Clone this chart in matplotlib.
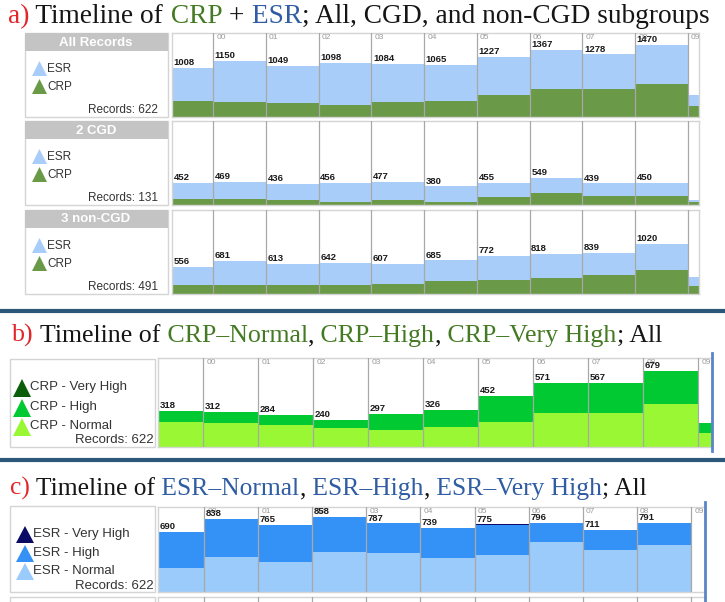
import numpy as np
import matplotlib
import matplotlib.pyplot as plt
from matplotlib.patches import Rectangle, Polygon

matplotlib.use('Agg')

# ---- data ----
years = ['99', '00', '01', '02', '03', '04', '05', '06', '07', '08', '09']

# a) CRP + ESR, stacked (last entry = partial 09 column)
crp_all = [318, 312, 284, 240, 297, 326, 452, 571, 567, 679, 215]
esr_all = [690, 838, 765, 858, 787, 739, 775, 796, 711, 791, 240]
crp_cgd = [130, 130, 110, 60, 95, 70, 165, 240, 180, 180, 60]
esr_cgd = [322, 339, 326, 396, 382, 310, 290, 309, 259, 270, 50]
crp_non = [188, 182, 174, 180, 202, 256, 287, 331, 387, 499, 155]
esr_non = [368, 499, 439, 462, 405, 429, 485, 487, 452, 521, 190]

# b) CRP levels
crp_normal = [220, 211, 196, 172, 151, 175, 222, 305, 302, 383, 125]
crp_high = [98, 101, 88, 68, 146, 151, 230, 266, 265, 288, 90]
crp_vhigh = [0, 0, 0, 0, 0, 0, 0, 0, 0, 8, 0]

# c) ESR levels (no 09 data)
esr_normal = [272, 406, 345, 463, 452, 391, 429, 578, 483, 540]
esr_high = [418, 432, 420, 395, 335, 348, 340, 218, 228, 251]
esr_vhigh = [0, 0, 0, 0, 0, 0, 6, 0, 0, 0]

W, H = 725, 602
fig = plt.figure(figsize=(W / 100, H / 100), dpi=100)
fig.patch.set_facecolor('white')

UI = 'Liberation Sans'
SEP = '#a8a8a8'
BORDER = '#d4d4d4'


def px_axes(x0, y0, x1, y1):
    return fig.add_axes([x0 / W, 1 - y1 / H, (x1 - x0) / W, (y1 - y0) / H])


def style_chart(ax, xlim, ylim):
    ax.set_xlim(*xlim)
    ax.set_ylim(0, ylim)
    ax.set_xticks([])
    ax.set_yticks([])
    for s in ax.spines.values():
        s.set_color(BORDER)
        s.set_linewidth(1)
    for k in range(1, 11):
        ax.axvline(k, color=SEP, lw=0.9, zorder=3)


def stacked(ax, layers, colors, n_labels, year_labels=True):
    x = np.arange(len(layers[0]))
    bottom = np.zeros(len(x))
    for vals, col in zip(layers, colors):
        ax.bar(x, vals, width=1, align='edge', bottom=bottom, color=col, lw=0, zorder=2)
        bottom = bottom + np.array(vals)
    x_left = ax.get_xlim()[0]
    for i in range(n_labels):
        ax.text(max(i, x_left) + 0.03, bottom[i] + ax.get_ylim()[1] * 0.01, str(int(bottom[i])),
                fontsize=6.8, fontweight='bold', family=UI, color='#1a1a1a',
                va='bottom', ha='left', zorder=5)
    if year_labels:
        for k in range(1, 11):
            ax.text(k + 0.06, ax.get_ylim()[1] * 0.985, years[k], fontsize=6,
                    family=UI, color='#9a9a9a', va='top', ha='left', zorder=4)


# ---- overlay in pixel coordinates ----
ov = fig.add_axes([0, 0, 1, 1], zorder=10)
ov.set_xlim(0, W)
ov.set_ylim(H, 0)
ov.axis('off')
rend = fig.canvas.get_renderer()


def colored_title(x, y, pieces, target_w, family='Liberation Serif'):
    # measure at a trial size, then draw scaled to the target width
    trial = 18
    widths = []
    for s, c in pieces:
        t = ov.text(0, 0, s, fontsize=trial, family=family)
        widths.append(t.get_window_extent(rend).width)
        t.remove()
    scale = target_w / sum(widths)
    cx = x
    for (s, c), w in zip(pieces, widths):
        ov.text(cx, y, s, color=c, fontsize=trial * scale, family=family,
                va='baseline', ha='left')
        cx += w * scale


RED, BLK, GRN, BLU = '#e2262a', '#151515', '#457a24', '#2f5ca3'
colored_title(8, 23, [('a)', RED), (' Timeline of', BLK), (' CRP', GRN), (' +', BLK),
                      (' ESR', BLU), ('; All, CGD, and non-CGD subgroups', BLK)], 700)
colored_title(12, 342, [('b)', RED), (' Timeline of', BLK), (' CRP–Normal', GRN), (',', BLK),
                        (' CRP–High', GRN), (',', BLK), (' CRP–Very High', GRN), ('; All', BLK)], 650)
colored_title(10, 495, [('c)', RED), (' Timeline of', BLK), (' ESR–Normal', BLU), (',', BLK),
                        (' ESR–High', BLU), (',', BLK), (' ESR–Very High', BLU), ('; All', BLK)], 637)

# dark separators between panels
for yy in (311, 460):
    ov.plot([0, W], [yy, yy], color='#2b5878', lw=3, solid_capstyle='butt')


def tri(x, yb, w, h, color):
    ov.add_patch(Polygon([[x, yb], [x + w, yb], [x + w / 2, yb - h]], closed=True,
                         facecolor=color, edgecolor='none'))


# ---- panel a ----
ESR_C, CRP_C = '#a9cdf9', '#6a9a48'
rows = [('All Records', crp_all, esr_all, 622, 33),
        ('2 CGD', crp_cgd, esr_cgd, 131, 121),
        ('3 non-CGD', crp_non, esr_non, 491, 210)]
for ri, (name, crp, esr, nrec, top) in enumerate(rows):
    ov.add_patch(Rectangle((25, top), 143, 84, facecolor='white', edgecolor=BORDER, lw=1))
    ov.add_patch(Rectangle((25, top), 143, 18, facecolor='#c4c4c4', edgecolor='none'))
    ov.text(96, top + 9.5, name, color='white', fontsize=9.5, fontweight='bold',
            family=UI, ha='center', va='center')
    tri(32, top + 43, 15, 15, ESR_C)
    ov.text(47, top + 36, 'ESR', fontsize=8.5, family=UI, color='#333', va='center')
    tri(32, top + 61, 15, 15, CRP_C)
    ov.text(47, top + 54, 'CRP', fontsize=8.5, family=UI, color='#333', va='center')
    ov.text(158, top + 77, 'Records: %d' % nrec, fontsize=8.5, family=UI, color='#333',
            ha='right', va='center')
    ax = px_axes(172, top, 699, top + 84)
    style_chart(ax, (0.22, 10.21), 1715)
    stacked(ax, [crp, esr], [CRP_C, ESR_C], 10, year_labels=(ri == 0))

# ---- panel b ----
B_N, B_H, B_V = '#99f833', '#00c932', '#0a5e0a'
ov.add_patch(Rectangle((10, 359), 145, 88, facecolor='white', edgecolor=BORDER, lw=1))
for lab, col, yc in [('CRP - Very High', B_V, 387), ('CRP - High', B_H, 407),
                     ('CRP - Normal', B_N, 426)]:
    tri(13, yc + 10, 18, 18, col)
    ov.text(30, yc, lab, fontsize=9.5, family=UI, color='#333', va='center')
ov.text(154, 440, 'Records: 622', fontsize=9.5, family=UI, color='#333', ha='right', va='center')
axb = px_axes(158, 358, 712, 447)
style_chart(axb, (0.18, 10.25), 790)
stacked(axb, [crp_normal, crp_high, crp_vhigh], [B_N, B_H, B_V], 10)
ov.plot([712, 712], [353, 451], color='#5a85c8', lw=2)

# ---- panel c ----
C_N, C_H, C_V = '#9bcbfb', '#3492f6', '#0b0b66'
ov.add_patch(Rectangle((10, 506), 145, 86, facecolor='white', edgecolor=BORDER, lw=1))
for lab, col, yc in [('ESR - Very High', C_V, 534), ('ESR - High', C_H, 553),
                     ('ESR - Normal', C_N, 571)]:
    tri(16, yc + 9, 18, 17, col)
    ov.text(33, yc, lab, fontsize=9.5, family=UI, color='#333', va='center')
ov.text(154, 586, 'Records: 622', fontsize=9.5, family=UI, color='#333', ha='right', va='center')
axc = px_axes(158, 507, 705, 592)
style_chart(axc, (0.15, 10.26), 975)
stacked(axc, [esr_normal, esr_high, esr_vhigh], [C_N, C_H, C_V], 10)

# start of the next (cut-off) row below panel c
axn = px_axes(158, 597, 705, 620)
style_chart(axn, (0.15, 10.26), 1)
ov.add_patch(Rectangle((10, 597), 145, 20, facecolor='white', edgecolor=BORDER, lw=1))
ov.plot([705, 705], [502, 602], color='#5a85c8', lw=2)

fig.savefig('out.png', dpi=100)
plt.close(fig)
